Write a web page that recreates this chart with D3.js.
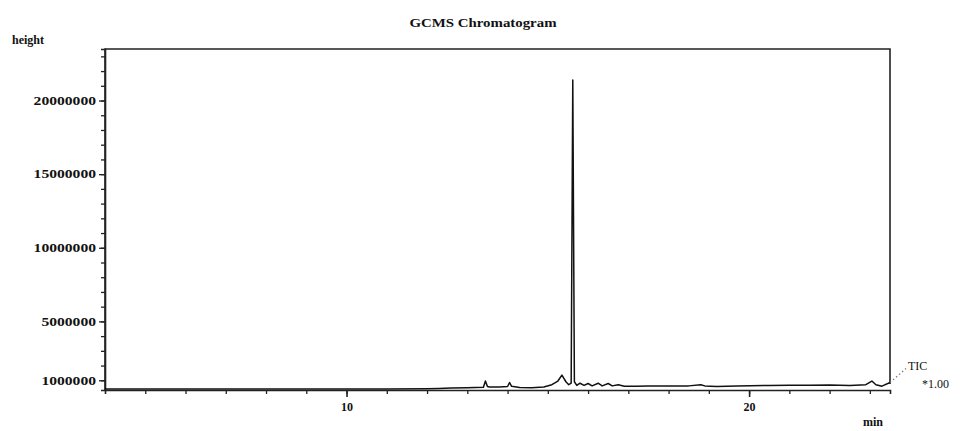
<!DOCTYPE html>
<html>
<head>
<meta charset="utf-8">
<script src="https://cdn.jsdelivr.net/npm/d3@7"></script>
<style>
  body { margin: 0; background: #fff; }
  text { font-family: "Liberation Serif", "Times New Roman", serif; fill: #111; }
</style>
</head>
<body>
<svg id="chart" width="960" height="431"></svg>
<script>
// retention time (min)
const times = [4.0, 5.0, 6.0, 7.0, 8.0, 9.0, 10.0, 11.0, 12.0, 12.3, 12.6, 13.0, 13.4, 13.45, 13.5, 13.55,
  13.8, 14.0, 14.05, 14.1, 14.3, 14.6, 14.9, 15.1, 15.25, 15.35, 15.45, 15.52, 15.58, 15.62, 15.66,
  15.72, 15.8, 15.9, 16.0, 16.1, 16.25, 16.35, 16.5, 16.6, 16.75, 16.9, 17.2, 17.5, 18.0, 18.5, 18.8,
  18.9, 19.2, 19.7, 20.5, 21.0, 21.5, 22.0, 22.5, 22.9, 23.05, 23.15, 23.3, 23.5];
// TIC intensity
const heights = [400000, 400000, 400000, 400000, 400000, 400000, 400000, 410000, 430000, 450000, 470000, 490000, 530000, 950000, 580000, 540000,
  540000, 580000, 850000, 590000, 510000, 500000, 550000, 700000, 950000, 1350000, 900000, 700000, 800000, 21400000, 900000,
  650000, 800000, 650000, 780000, 620000, 800000, 620000, 780000, 620000, 700000, 600000, 600000, 620000, 620000, 620000, 700000,
  620000, 580000, 620000, 650000, 660000, 660000, 680000, 650000, 700000, 950000, 700000, 600000, 850000];

const yTickValues = [1000000, 5000000, 10000000, 15000000, 20000000];
const xTickLabels = [10, 20];

const svg = d3.select('#chart');
const mLeft = 105, mRight = 890, mTop = 49, mBottom = 390;

const x = d3.scaleLinear().domain([4, 23.5]).range([mLeft, mRight]);
const y = d3.scaleLinear().domain([340000, 23500000]).range([mBottom, mTop]);

// frame
svg.append('path')
  .attr('d', `M${mLeft},${mBottom}V${mTop}H${mRight}V${mBottom - 6}`)
  .attr('fill', 'none').attr('stroke', '#222').attr('stroke-width', 1.6);

// y axis, minor ticks every 1e6
const yAxis = svg.append('g').attr('transform', `translate(${mLeft},0)`)
  .call(d3.axisLeft(y).tickValues(d3.range(1, 24).map(d => d * 1e6)).tickSize(4).tickFormat(''));
yAxis.select('.domain').attr('stroke', '#222').attr('stroke-width', 1.6);
yAxis.selectAll('.tick line').attr('stroke', '#222').attr('stroke-width', 1.3);

svg.append('g').attr('transform', `translate(${mLeft},0)`)
  .call(d3.axisLeft(y).tickValues(yTickValues).tickSize(6).tickPadding(3).tickFormat(d3.format('d')))
  .call(g => g.select('.domain').remove())
  .call(g => g.selectAll('.tick line').attr('stroke', '#222').attr('stroke-width', 1.3))
  .call(g => g.selectAll('.tick text')
    .style('font-size', '12px').style('font-weight', 'bold')
    .attr('textLength', d => String(d).length * 7.8).attr('lengthAdjust', 'spacingAndGlyphs'));

// x axis, minor ticks every minute
const xAxis = svg.append('g').attr('transform', `translate(0,${mBottom})`)
  .call(d3.axisBottom(x).tickValues(d3.range(5, 24)).tickSize(4).tickFormat(''));
xAxis.select('.domain').attr('stroke', '#222').attr('stroke-width', 1.6);
xAxis.selectAll('.tick line').attr('stroke', '#222').attr('stroke-width', 1.3);

svg.append('g').attr('transform', `translate(0,${mBottom})`)
  .call(d3.axisBottom(x).tickValues(xTickLabels).tickSize(7).tickPadding(5))
  .call(g => g.select('.domain').remove())
  .call(g => g.selectAll('.tick line').attr('stroke', '#222').attr('stroke-width', 1.6))
  .call(g => g.selectAll('.tick text').style('font-size', '12px').style('font-weight', 'bold'));

// trace
const line = d3.line().x((d, i) => x(times[i])).y(d => y(d));
svg.append('path')
  .datum(heights)
  .attr('d', line)
  .attr('fill', 'none').attr('stroke', '#111').attr('stroke-width', 1.5)
  .attr('stroke-linejoin', 'round');

// dotted leader to TIC label
const lastX = x(times[times.length - 1]), lastY = y(heights[heights.length - 1]);
svg.append('line')
  .attr('x1', lastX).attr('y1', lastY).attr('x2', lastX + 16).attr('y2', lastY - 14)
  .attr('stroke', '#777').attr('stroke-width', 1.2).attr('stroke-dasharray', '1.5,2.5');

svg.append('text').attr('x', 908).attr('y', 370).text('TIC')
  .style('font-size', '12px');
svg.append('text').attr('x', 922).attr('y', 388).text('*1.00')
  .style('font-size', '12px');

// titles
svg.append('text').attr('x', 483).attr('y', 27).attr('text-anchor', 'middle')
  .text('GCMS Chromatogram')
  .style('font-size', '12px').style('font-weight', 'bold')
  .attr('textLength', 147).attr('lengthAdjust', 'spacingAndGlyphs');
svg.append('text').attr('x', 12).attr('y', 44).text('height')
  .style('font-size', '12px').style('font-weight', 'bold');
svg.append('text').attr('x', 873).attr('y', 426).attr('text-anchor', 'middle').text('min')
  .style('font-size', '12px').style('font-weight', 'bold');
</script>
</body>
</html>
